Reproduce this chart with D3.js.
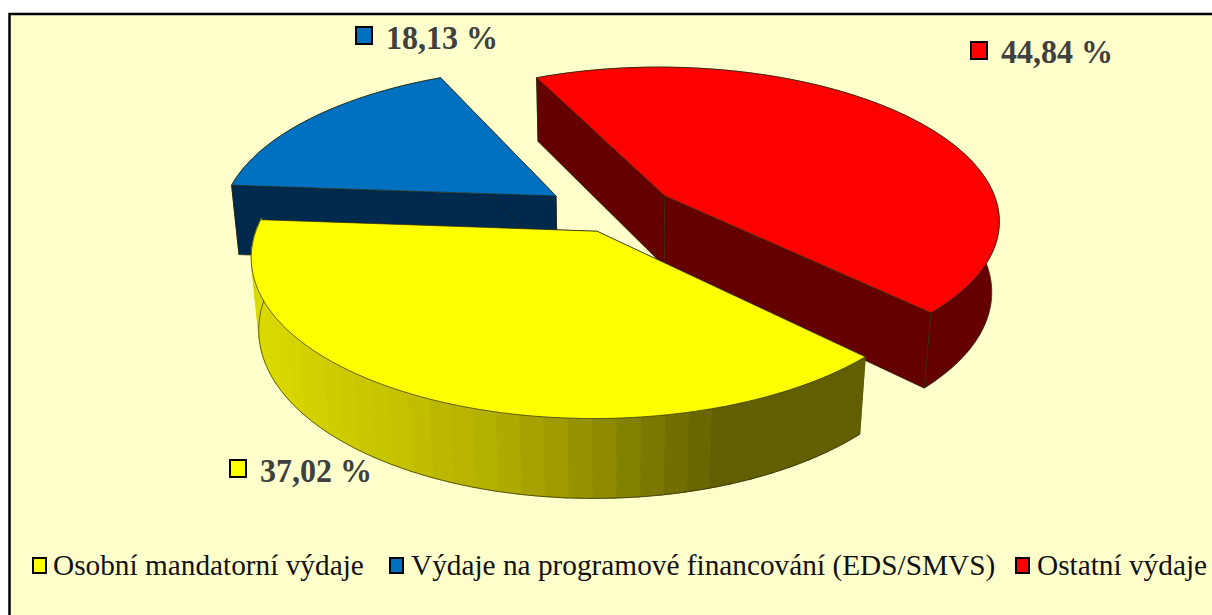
<!DOCTYPE html>
<html><head><meta charset="utf-8">
<script src="https://cdn.jsdelivr.net/npm/d3@7"></script>
<style>html,body{margin:0;padding:0;background:#fff}svg{display:block}</style>
</head><body><div id="c"></div>
<script>
const categories = ["Osobní mandatorní výdaje","Výdaje na programové financování (EDS/SMVS)","Ostatní výdaje"];
const values = [37.02,18.13,44.84];
const labels = ["37,02 %","18,13 %","44,84 %"];
const topColors = ["#ffff00","#0070c0","#ff0000"];
const wallColors = ["#666000","#002a4d","#640000"];

const W=1212,H=615;
const svg=d3.select("#c").append("svg").attr("width",W).attr("height",H);
svg.append("rect").attr("x",0).attr("y",0).attr("width",W).attr("height",H).attr("fill","#fff");
svg.append("rect").attr("x",9.5).attr("y",14).attr("width",W).attr("height",H).attr("fill","#ffffcc").attr("stroke","#000").attr("stroke-width",2.5);

// pie order clockwise: red, yellow, blue
const order=[2,0,1];
const startDeg=-25;
const pie=d3.pie().sort(null).value(i=>values[i])
  .startAngle(startDeg*Math.PI/180).endAngle((startDeg+360)*Math.PI/180);
const arcs=pie(order);
// small angular correction of the source's perspective, per slice boundary
const warp=d3.scaleLinear().domain([-25,136.4,269.7,335]).range([0,-1.5,4.5,0]);
const warpRad=a=>a+warp(a*180/Math.PI)*Math.PI/180;
const byIdx={};arcs.forEach(a=>byIdx[a.data]=a);

// perspective projection of the tilted pie; slice offsets on its plane
const cx=618,cy=209.5,rx=334,ry=152,depth=72,k=0.15,b=0.02;
const offsets=[[-0.0616,0.14],[-0.188,-0.09],[0.1426,-0.09]];
function proj(u,v,w){const d=1-k*v+b*w;return [cx+rx*u/d,cy+(ry*v+depth*w)/d];}
const line=d3.line();
function pt(a,r,off,w){
  const t=warpRad(a);
  const u=off[0]+r*Math.sin(t),v=off[1]-r*Math.cos(t);return proj(u,v,w);
}
function rim(arc,off,w,n=120){
  return d3.range(n+1).map(i=>pt(arc.startAngle+(arc.endAngle-arc.startAngle)*i/n,1,off,w));
}
// side shade of the yellow slice follows the horizontal position
const shade=d3.scaleLinear().domain([260,400,500,560,620,720]).range(["#dada00","#c4c000","#b0ac00","#9c9800","#868200","#625f00"]).clamp(true);
function drawSlice(i){
  const arc=byIdx[i];
  const off=offsets[i];
  const g=svg.append("g");
  const face=(pts,fill)=>g.append("path").attr("d",line(pts)+"Z").attr("fill",fill)
     .attr("stroke","#2a2a10").attr("stroke-width",0.7);
  const walls=()=>[arc.startAngle,arc.endAngle].forEach(a=>{
    face([pt(a,0,off,0),pt(a,1,off,0),pt(a,1,off,1),pt(a,0,off,1)],wallColors[i]);
  });
  if(i===0){
    walls();
    const n=40;
    d3.range(n).forEach(j=>{
      const a0=arc.startAngle+(arc.endAngle-arc.startAngle)*j/n,a1=arc.startAngle+(arc.endAngle-arc.startAngle)*(j+1.15)/n;
      const sub=d3.range(5).map(t=>a0+(a1-a0)*t/4);
      const fill=shade(pt((a0+a1)/2,1,off,0)[0]);
      const pts=sub.map(a=>pt(a,1,off,0)).concat(sub.slice().reverse().map(a=>pt(a,1,off,1)));
      g.append("path").attr("d",line(pts)+"Z").attr("fill",fill).attr("stroke",fill).attr("stroke-width",0.8);
    });
    g.append("path").attr("d",line(rim(arc,off,1))).attr("fill","none").attr("stroke","#2a2a10").attr("stroke-width",0.7);
  } else {
    face(rim(arc,off,0).concat(rim(arc,off,1).reverse()),wallColors[i]);
    walls();
  }
  face([pt(arc.startAngle,0,off,0)].concat(rim(arc,off,0)),topColors[i]);
}
[1,2,0].forEach(drawSlice);

// data labels
const labelPos=[[230,460,482],[356,27,49],[971,42,63]];
labels.forEach((t,i)=>{
  const [x,y,base]=labelPos[i];
  svg.append("rect").attr("x",x).attr("y",y).attr("width",16).attr("height",17).attr("fill",topColors[i]).attr("stroke","#000").attr("stroke-width",2);
  svg.append("text").attr("x",x+30).attr("y",base).text(t)
   .attr("font-family","'Liberation Serif'").attr("font-weight","bold").attr("font-size",33)
   .attr("textLength",112).attr("lengthAdjust","spacingAndGlyphs").attr("fill","#404040");
});
// legend
const legX=[[33,53],[390,411],[1016,1037]];
categories.forEach((t,i)=>{
  svg.append("rect").attr("x",legX[i][0]).attr("y",558).attr("width",13).attr("height",15).attr("fill",topColors[i]).attr("stroke","#000").attr("stroke-width",2);
  svg.append("text").attr("x",legX[i][1]).attr("y",575).text(t)
   .attr("font-family","'Liberation Serif'").attr("font-size",29.3).attr("fill","#111");
});
</script></body></html>
